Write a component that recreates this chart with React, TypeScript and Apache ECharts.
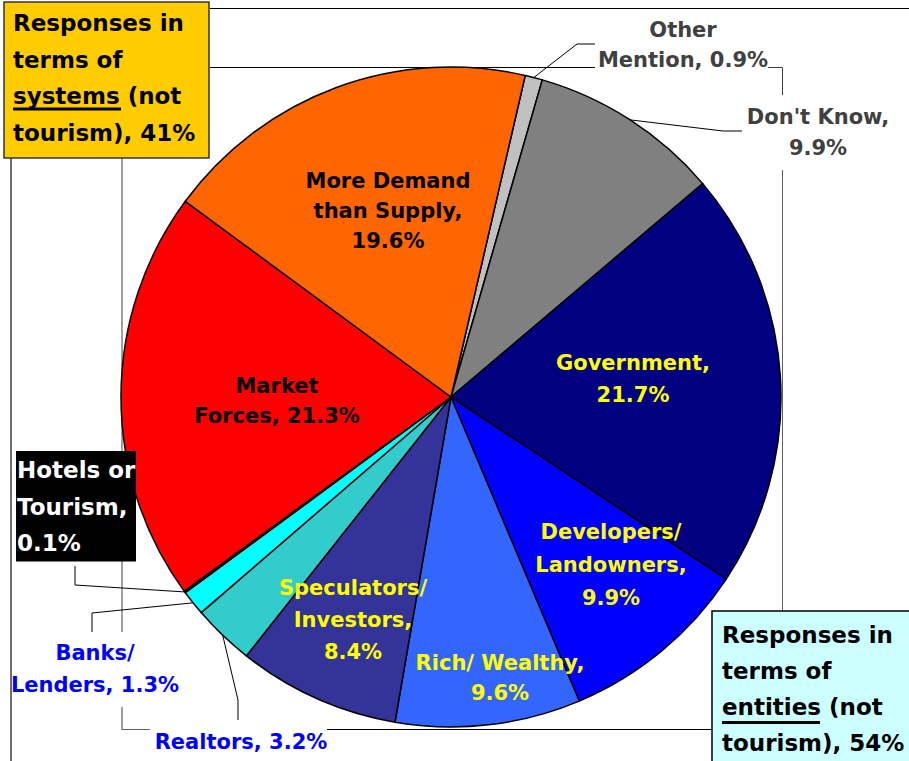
import React, { useEffect, useRef } from 'react';
import * as echarts from 'echarts';

// ---- Data ----
const categories = [
  'Other\nMention',
  "Don't Know",
  'Government',
  'Developers/\nLandowners',
  'Rich/ Wealthy',
  'Speculators/\nInvestors',
  'Realtors',
  'Banks/\nLenders',
  'Hotels or\nTourism',
  'Market\nForces',
  'More Demand\nthan Supply',
];
const values = [0.9, 9.9, 21.7, 9.9, 9.6, 8.4, 3.2, 1.3, 0.1, 21.3, 19.6];
const valueSeparators = [' ', '\n', '\n', '\n', '\n', '\n', ' ', ' ', '\n', ' ', '\n'];

const systemsBoxText = 'Responses in\nterms of\nsystems (not\ntourism), 41%';
const entitiesBoxText = 'Responses in\nterms of\nentities (not\ntourism), 54%';

// ---- Styles / layout ----
const sliceColors = ['#C0C0C0', '#808080', '#000080', '#0000FF', '#3366FF', '#333399', '#33CCCC', '#00FFFF', '#000000', '#FF0000', '#FF6600'];
const labelColors = ['#404040', '#404040', '#FFFF00', '#FFFF00', '#FFFF00', '#FFFF00', '#0000FF', '#0000FF', '#FFFFFF', '#000000', '#000000'];
const labelInside = [false, false, true, true, true, true, false, false, false, true, true];
const labelLineHeights = [30, 31, 32, 33, 30, 32, 30, 32, 36.5, 30, 30];
const labelPositions: number[][] = [
  [683, 45], [818, 132], [633, 379], [611, 565], [500, 678], [353, 620],
  [241, 742], [95, 669], [16, 451], [277, 401], [388, 211],
];
const leaderBends: (number[][] | null)[] = [
  [[577, 44], [595, 44]],
  [[723, 131], [742, 131]],
  null, null, null, null,
  [[238, 700], [238, 720]],
  [[92, 613], [92, 632]],
  [[75, 585], [75, 566]],
  null, null,
];

const CX = 451;
const CY = 397;
const R = 330;
const START_ANGLE = 77; // echarts degrees (ccw from 3 o'clock)
const FONT = 'DejaVu Sans';

const total = values.reduce((a, b) => a + b, 0);
function edgePoint(i: number): number[] {
  let before = 0;
  for (let k = 0; k < i; k++) before += values[k];
  const frac = (before + values[i] / 2) / total;
  const fromTop = (90 - START_ANGLE) + frac * 360;
  const rad = (fromTop * Math.PI) / 180;
  return [CX + R * Math.sin(rad), CY - R * Math.cos(rad)];
}

export default function App() {
  const ref = useRef<HTMLDivElement>(null);
  useEffect(() => {
    if (!ref.current) return;
    const chart = echarts.init(ref.current, undefined, { renderer: 'svg' });
    const data = categories.map((name, i) => {
      const isHotel = i === 8;
      return {
        name,
        value: values[i],
        itemStyle: { color: sliceColors[i] },
        label: {
          position: labelInside[i] ? 'inside' : 'outside',
          color: labelColors[i],
          lineHeight: labelLineHeights[i],
          fontSize: isHotel ? 23 : 21,
          ...(isHotel
            ? { backgroundColor: '#000000', padding: [1, 1, 0, 1], width: 118, align: 'left' }
            : {}),
        },
        labelLine: { show: !labelInside[i] },
      };
    });
    const option: any = {
      animation: false,
      backgroundColor: '#FFFFFF',
      series: [
        {
          type: 'pie',
          center: [CX, CY],
          radius: R,
          startAngle: START_ANGLE,
          clockwise: true,
          avoidLabelOverlap: false,
          z: 2,
          emphasis: { disabled: true },
          itemStyle: { borderColor: '#000000', borderWidth: 1.5 },
          label: {
            fontFamily: FONT,
            fontWeight: 'bold',
            fontSize: 21,
            width: 260,
            overflow: 'none',
            formatter: (p: any) => `${p.name},${valueSeparators[p.dataIndex]}${Number(p.value).toFixed(1)}%`,
          },
          labelLine: {
            show: true,
            smooth: false,
            lineStyle: { color: '#000000', width: 1 },
          },
          labelLayout: (params: any) => {
            const i = params.dataIndex;
            const pos = labelPositions[i];
            const isHotel = i === 8;
            const res: any = {
              x: pos[0],
              y: pos[1],
              align: isHotel ? 'left' : 'center',
              verticalAlign: isHotel ? 'top' : 'middle',
            };
            const bend = leaderBends[i];
            if (bend) res.labelLinePoints = [edgePoint(i), ...bend];
            return res;
          },
          data,
        },
      ],
      graphic: [
        { type: 'line', z: 0, shape: { x1: 210, y1: 8.5, x2: 909, y2: 8.5 }, style: { stroke: '#000000', lineWidth: 1 } },
        { type: 'polyline', z: 0, shape: { points: [[210, 67.5], [595, 67.5]] }, style: { stroke: '#000000', lineWidth: 1, fill: null } },
        { type: 'polyline', z: 0, shape: { points: [[768, 67.5], [782.5, 67.5], [782.5, 95]] }, style: { stroke: '#404040', lineWidth: 1, fill: null } },
        { type: 'line', z: 0, shape: { x1: 782.5, y1: 170, x2: 782.5, y2: 611 }, style: { stroke: '#606060', lineWidth: 1 } },
        { type: 'line', z: 0, shape: { x1: 327, y1: 729.5, x2: 712, y2: 729.5 }, style: { stroke: '#000000', lineWidth: 1 } },
        { type: 'line', z: 0, shape: { x1: 11, y1: 158, x2: 11, y2: 761 }, style: { stroke: '#404040', lineWidth: 1.5 } },
        { type: 'line', z: 0, shape: { x1: 122, y1: 158, x2: 122, y2: 632 }, style: { stroke: '#808080', lineWidth: 1.5 } },
        { type: 'polyline', z: 0, shape: { points: [[122, 707], [122, 729.5], [150, 729.5]] }, style: { stroke: '#606060', lineWidth: 1.2, fill: null } },
        // systems box
        { type: 'rect', z: 20, shape: { x: 4, y: 2, width: 205, height: 156 }, style: { fill: '#FFCC00', stroke: '#333333', lineWidth: 1.5 } },
        {
          type: 'text', z: 21, x: 13, y: 4.7,
          style: { text: systemsBoxText, fontFamily: FONT, fontWeight: 'bold', fontSize: 23, lineHeight: 36.7, fill: '#000000', align: 'left', verticalAlign: 'top' },
        },
        { type: 'rect', z: 21, shape: { x: 13, y: 107.5, width: 108, height: 3 }, style: { fill: '#000000' } },
        // entities box
        { type: 'rect', z: 20, shape: { x: 712, y: 611, width: 205, height: 160 }, style: { fill: '#CCFFFF', stroke: '#000000', lineWidth: 1.5 } },
        {
          type: 'text', z: 21, x: 722, y: 617,
          style: { text: entitiesBoxText, fontFamily: FONT, fontWeight: 'bold', fontSize: 23, lineHeight: 36, fill: '#000000', align: 'left', verticalAlign: 'top' },
        },
        { type: 'rect', z: 21, shape: { x: 722, y: 721, width: 98, height: 3 }, style: { fill: '#000000' } },
      ],
    };
    chart.setOption(option);
    return () => chart.dispose();
  }, []);
  return (
    <div
      ref={ref}
      style={{ position: 'absolute', left: 0, top: 0, width: 909, height: 761, background: '#FFFFFF' }}
    />
  );
}
